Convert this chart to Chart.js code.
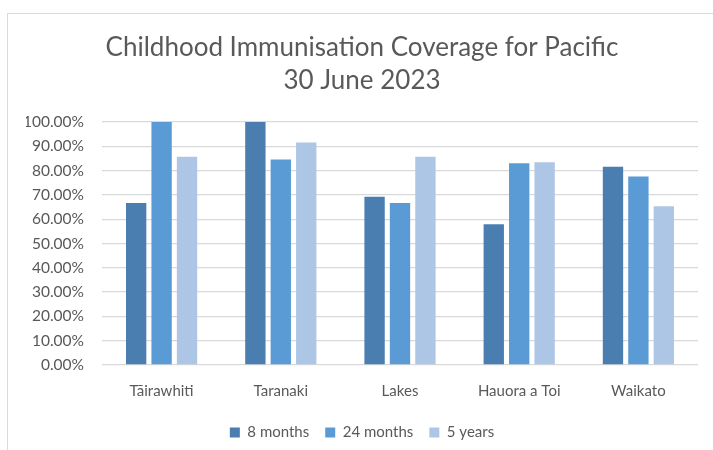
<!DOCTYPE html>
<html>
<head>
<meta charset="utf-8">
<script src="https://cdn.jsdelivr.net/npm/chart.js@4/dist/chart.umd.min.js"></script>
<style>
  body { margin: 0; background: #fff; }
  #frame { position: absolute; left: 7px; top: 13px; width: 720px; height: 450px;
           border-left: 1px solid #d9d9d9; border-top: 1px solid #d9d9d9; }
  #wrap { position: absolute; left: 0; top: 0; width: 713px; height: 450px; }
</style>
</head>
<body>
<div id="frame"></div>
<div id="wrap"><canvas id="coverageChart"></canvas></div>
<script>
const regions = ["Tāirawhiti", "Taranaki", "Lakes", "Hauora a Toi", "Waikato"];
const eightMonths = [66.7, 100, 69.2, 57.9, 81.6];
const twentyFourMonths = [100, 84.6, 66.7, 83.0, 77.6];
const fiveYears = [85.7, 91.6, 85.7, 83.4, 65.3];
const titleLines = ["Childhood Immunisation Coverage for Pacific", "30 June 2023"];

const font = "Lato, 'Open Sans', sans-serif";

new Chart(document.getElementById("coverageChart"), {
  type: 'bar',
  data: {
    labels: regions,
    datasets: [
      { label: "8 months", data: eightMonths, backgroundColor: "#4a7eb0" },
      { label: "24 months", data: twentyFourMonths, backgroundColor: "#5b9bd5" },
      { label: "5 years", data: fiveYears, backgroundColor: "#adc6e6" }
    ]
  },
  options: {
    responsive: true,
    maintainAspectRatio: false,
    animation: false,
    categoryPercentage: 0.64,
    barPercentage: 0.8,
    layout: { padding: { top: 31, left: 26, right: 15, bottom: 0 } },
    plugins: {
      title: {
        display: true,
        text: titleLines,
        color: '#595959',
        font: { family: font, size: 26, weight: 'normal', lineHeight: 1.27 },
        padding: { top: 0, bottom: 25 }
      },
      legend: {
        position: 'bottom',
        labels: {
          color: '#595959',
          font: { family: font, size: 15 },
          boxWidth: 10,
          boxHeight: 10,
          padding: 16
        }
      },
      tooltip: { enabled: false }
    },
    scales: {
      x: {
        grid: { display: false },
        border: { display: false },
        ticks: { color: '#595959', font: { family: font, size: 15 }, padding: 9 }
      },
      y: {
        min: 0,
        max: 100,
        // keep plot left edge where Excel puts it, labels overflow into padding
        afterFit: scale => { scale.width = 76; },
        ticks: {
          stepSize: 10,
          color: '#595959',
          font: { family: font, size: 15.5 },
          padding: 18,
          callback: v => v.toFixed(2) + '%' // Excel style percent
        },
        grid: { color: '#d9d9d9', lineWidth: 1.3, drawTicks: false },
        border: { display: false }
      }
    }
  }
});
</script>
</body>
</html>
